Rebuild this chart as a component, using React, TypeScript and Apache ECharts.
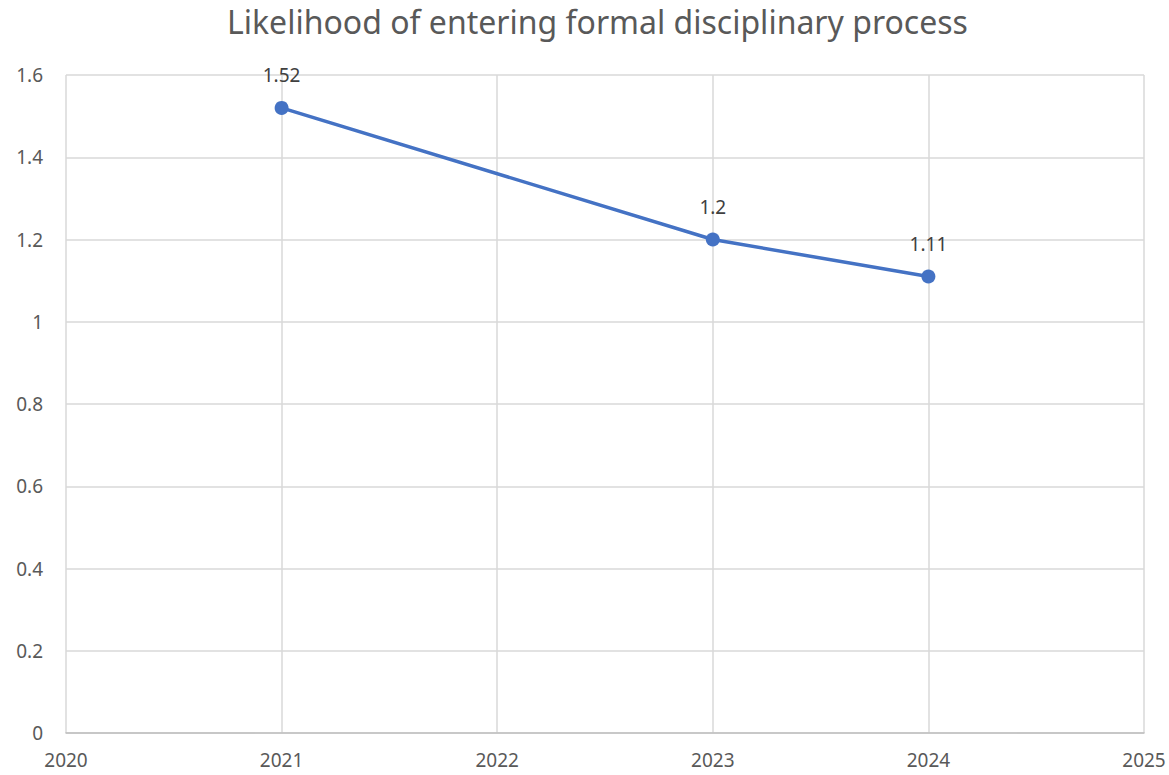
import React, { useEffect, useRef } from "react";
import * as echarts from "echarts";

const years = [2021, 2023, 2024];
const values = [1.52, 1.2, 1.11];
const titleText = "Likelihood of entering formal disciplinary process";

export default function App() {
  const ref = useRef<HTMLDivElement>(null);
  useEffect(() => {
    if (!ref.current) return;
    const chart = echarts.init(ref.current, undefined, { renderer: "svg" });
    const font = "'Noto Sans', 'Open Sans', sans-serif";
    chart.setOption({
      animation: false,
      backgroundColor: "#ffffff",
      title: {
        text: titleText,
        left: 222,
        top: 0,
        textStyle: { fontFamily: font, fontSize: 32, fontWeight: "normal", color: "#595959" },
      },
      grid: { left: 66, right: 25, top: 75, bottom: 42, containLabel: false },
      xAxis: {
        type: "value",
        min: 2020,
        max: 2025,
        interval: 1,
        axisLine: { show: true, lineStyle: { color: "#bfbfbf", width: 1.5 } },
        axisTick: { show: false },
        splitLine: { show: true, lineStyle: { color: "#d9d9d9", width: 1.5 } },
        axisLabel: {
          color: "#595959",
          fontFamily: font,
          fontSize: 19,
          margin: 17,
          formatter: (v: number) => String(v),
        },
      },
      yAxis: {
        type: "value",
        min: 0,
        max: 1.6,
        interval: 0.2,
        axisLine: { show: false },
        axisTick: { show: false },
        splitLine: { show: true, lineStyle: { color: "#d9d9d9", width: 1.5 } },
        axisLabel: {
          color: "#595959",
          fontFamily: font,
          fontSize: 19,
          margin: 23,
          formatter: (v: number) => String(Math.round(v * 10) / 10),
        },
      },
      series: [
        {
          type: "line",
          data: years.map((y, i) => [y, values[i]]),
          symbol: "circle",
          symbolSize: 14,
          itemStyle: { color: "#4472C4" },
          lineStyle: { color: "#4472C4", width: 3.5 },
          label: {
            show: true,
            position: "top",
            distance: 16,
            color: "#404040",
            fontFamily: font,
            fontSize: 19,
            formatter: (p: any) => String(p.value[1]),
          },
        },
      ],
    });
    return () => chart.dispose();
  }, []);
  return (
    <div
      ref={ref}
      style={{ position: "fixed", left: 0, top: 0, width: 1169, height: 775 }}
    />
  );
}
